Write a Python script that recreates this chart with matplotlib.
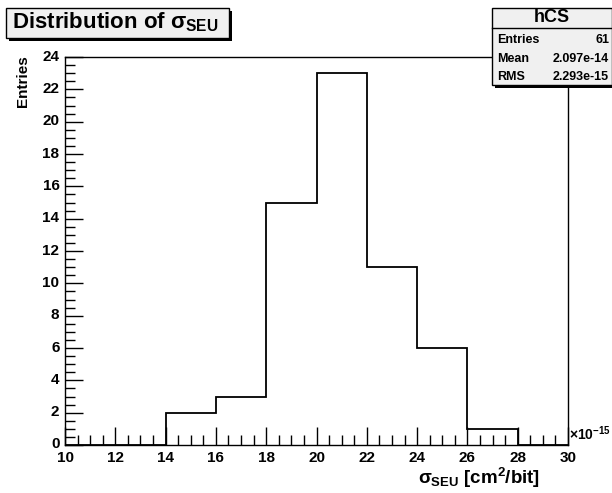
import numpy as np
import matplotlib
matplotlib.use("Agg")
import matplotlib.pyplot as plt
import matplotlib.transforms as mtransforms
from matplotlib.patches import Rectangle
from matplotlib.ticker import MultipleLocator

plt.rcParams['font.family'] = ['Liberation Sans', 'DejaVu Sans']
plt.rcParams['font.weight'] = 'bold'
plt.rcParams['mathtext.fontset'] = 'custom'
plt.rcParams['mathtext.rm'] = 'Liberation Sans:bold'
plt.rcParams['mathtext.it'] = 'Liberation Sans:bold'
plt.rcParams['mathtext.bf'] = 'Liberation Sans:bold'

# histogram of sigma_SEU (units of 1e-15 cm^2/bit)
bin_edges = [10, 12, 14, 16, 18, 20, 22, 24, 26, 28, 30]
counts = [0, 0, 2, 3, 15, 23, 11, 6, 1, 0]
stat_names = ["Entries", "Mean", "RMS"]
stat_values = ["61", "2.097e-14", "2.293e-15"]

fig = plt.figure(figsize=(6.12, 4.93), dpi=100)
ax = fig.add_axes([65/612, 1-445/493, (568-65)/612, (445-57)/493])

ax.stairs(counts, bin_edges, color="black", linewidth=1.3)
ax.set_xlim(10, 30)
ax.set_ylim(0, 24)

ax.xaxis.set_major_locator(MultipleLocator(2))
ax.xaxis.set_minor_locator(MultipleLocator(0.5))
ax.yaxis.set_major_locator(MultipleLocator(2))
ax.yaxis.set_minor_locator(MultipleLocator(0.5))
ax.tick_params(which="both", direction="in", top=False, right=False,
               labelsize=11, width=1.0)
ax.tick_params(axis="x", pad=4)
ax.tick_params(axis="y", pad=4)
ax.tick_params(which="major", length=13)
ax.tick_params(which="minor", length=7)
for s in ax.spines.values():
    s.set_linewidth(1.0)

# nudge y labels up a little so "0" sits above "10" like in ROOT
up = mtransforms.ScaledTranslation(0, 2/100, fig.dpi_scale_trans)
for lbl in ax.get_yticklabels():
    lbl.set_transform(lbl.get_transform() + up)

fig.text(569/612, 1-440/493, r"$\times$10$^{-15}$", fontsize=10,
         ha="left", va="baseline")

fig.text(540/612, 1-478/493, r"$\sigma_{SEU}$ [cm$^2$/bit]", fontsize=13.5,
         ha="right", va="center")
fig.text(23/612, 1-55/493, "Entries", fontsize=11, rotation=90,
         ha="center", va="top")

# title box
shadow = Rectangle((9/612, 1-41/493), 223/612, 30/493, transform=fig.transFigure,
                   facecolor="black", edgecolor="none")
fig.patches.append(shadow)
tbox = Rectangle((6/612, 1-38/493), 223/612, 30/493, transform=fig.transFigure,
                 facecolor="#f0f0f0", edgecolor="black", linewidth=1.0)
fig.patches.append(tbox)
fig.text(12/612, 1-22/493, r"Distribution of $\sigma_{SEU}$", fontsize=16,
         ha="left", va="center")

# stat box
sshadow = Rectangle((495/612, 1-88/493), 120/612, 77/493, transform=fig.transFigure,
                    facecolor="black", edgecolor="none")
fig.patches.append(sshadow)
sbox = Rectangle((492/612, 1-85/493), 120/612, 77/493, transform=fig.transFigure,
                 facecolor="#f0f0f0", edgecolor="black", linewidth=1.0)
fig.patches.append(sbox)
fig.add_artist(plt.Line2D([492/612, 612/612], [1-28/493, 1-28/493],
                          transform=fig.transFigure, color="black", linewidth=1.0))
fig.text(552/612, 1-18/493, "hCS", fontsize=13, ha="center", va="center")
for i, (n, v) in enumerate(zip(stat_names, stat_values)):
    y = 1 - (40 + i*18.5)/493
    fig.text(497/612, y, n, fontsize=9, ha="left", va="center")
    fig.text(609/612, y, v, fontsize=9, ha="right", va="center")

fig.savefig("out.png", dpi=100, facecolor="white")
